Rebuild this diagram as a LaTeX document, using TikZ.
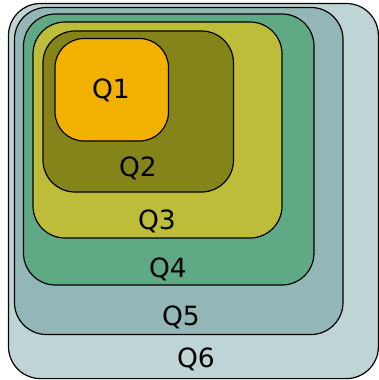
\documentclass[tikz,border=0pt]{standalone}
\usepackage{fontspec}
\setmainfont{DejaVu Sans}
\usetikzlibrary{positioning}
\definecolor{qsix}{HTML}{BFD4D5}
\definecolor{qfive}{HTML}{93B7B7}
\definecolor{qfour}{HTML}{5FAA84}
\definecolor{qthree}{HTML}{BDBD3A}
\definecolor{qtwo}{HTML}{84841B}
\definecolor{qone}{HTML}{F2B100}
\tikzset{
    qbox/.style = {draw=black, line width=1.2pt, rounded corners=32pt},
    qboxs/.style = {draw=black, line width=1.2pt, rounded corners=29pt},
    qlabel/.style = {inner sep=0pt, text height=19.3pt, text depth=0pt, font=\fontsize{26.5}{30}\selectfont, text=black},
}
\begin{document}
\begin{tikzpicture}[x=1pt,y=-1pt]
  \useasboundingbox (0,0) rectangle (379,380);
  % nested regions, outside in
  \draw[qbox, fill=qsix]   (8.5,3.5) rectangle (378.4,378.6);
  \draw[qbox, fill=qfive]  (14.5,7.5) rectangle (343,334.5);
  \draw[qbox, fill=qfour]  (23.5,14) rectangle (314,285);
  \draw[qbox, fill=qthree] (33,22) rectangle (282,238);
  \draw[qbox, fill=qtwo]   (43,31) rectangle (233.5,192);
  \draw[qboxs, fill=qone]  (55,38.5) rectangle (168.5,141);
  % labels
  \node[qlabel] (q1) at (111,89) {Q1};
  \node[qlabel] (q2) at (138,167) {Q2};
  \node[qlabel] (q3) at (157,220) {Q3};
  \node[qlabel] (q4) at (168,268) {Q4};
  \node[qlabel] (q5) at (181,316) {Q5};
  \node[qlabel] (q6) at (196,358) {Q6};
\end{tikzpicture}
\end{document}
